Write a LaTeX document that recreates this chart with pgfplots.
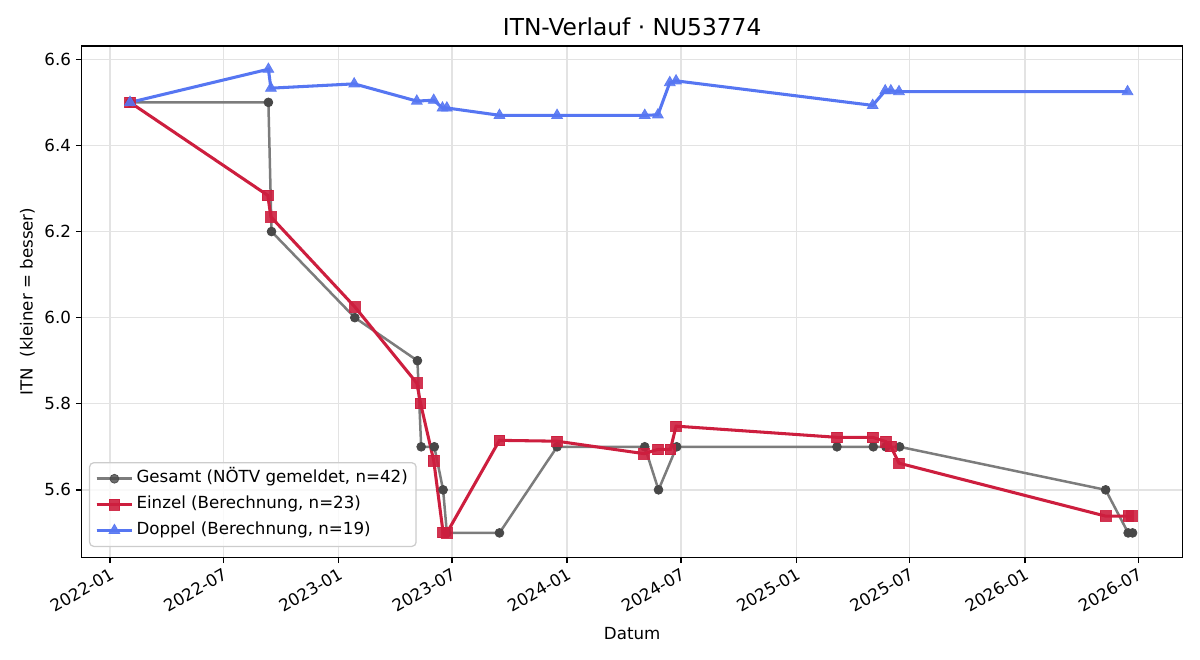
\documentclass[border=0pt]{standalone}
\usepackage{pgfplots}
\pgfplotsset{compat=1.18}
\usepackage{fontspec}
\setmainfont{DejaVu Sans}
\definecolor{cgrey}{RGB}{124,124,124}
\definecolor{cgreymk}{RGB}{72,72,72}
\definecolor{cred}{RGB}{205,30,62}
\definecolor{cblue}{RGB}{86,118,242}
\begin{document}
\begin{tikzpicture}
\begin{axis}[
  scale only axis,
  width=792.7pt, height=368.1pt,
  xmin=-45.2, xmax=1713,
  ymin=5.4435, ymax=6.631,
  xtick={0,181,365,546,730,912,1096,1277,1461,1642},
  xticklabels={2022-01,2022-07,2023-01,2023-07,2024-01,2024-07,2025-01,2025-07,2026-01,2026-07},
  ytick={5.6,5.8,6.0,6.2,6.4,6.6},
  /pgf/number format/fixed,
  /pgf/number format/fixed zerofill,
  /pgf/number format/precision=1,
  /pgf/number format/assume math mode=true,
  x tick label style={rotate=30, anchor=north east, font=\fontsize{12}{14}\selectfont, inner sep=2pt},
  y tick label style={font=\fontsize{12}{14}\selectfont},
  tick pos=left, tick align=outside,
  major tick length=4.2pt,
  every tick/.style={black, line width=0.95pt},
  axis line style={line width=0.95pt},
  grid=major,
  major grid style={black!11, line width=0.95pt},
  title={ITN-Verlauf · NU53774},
  title style={font=\fontsize{16.8}{19}\selectfont, yshift=-2pt},
  xlabel={Datum},
  xlabel style={yshift=-4pt},
  ylabel={ITN\ \ (kleiner = besser)},
  label style={font=\fontsize{12}{14}\selectfont},
  legend cell align=left,
  legend style={at={(0.0066,0.02)}, anchor=south west, draw=black!20, line width=0.9pt, rounded corners=3pt, fill=white, fill opacity=0.8, text opacity=1, font=\fontsize{12}{14}\selectfont, row sep=0.6pt, inner xsep=4pt, inner ysep=2.5pt,
    nodes={inner ysep=3pt, text height=9pt, text depth=3pt}},
  legend image code/.code={\draw[#1] (0cm,0cm) -- (0.45cm,0cm) -- (0.9cm,0cm); \draw[#1, mark repeat=2, mark phase=2] plot coordinates {(0cm,0cm) (0.45cm,0cm) (0.9cm,0cm)};},
]
\addplot[cgrey, line width=1.8pt, mark=*, mark size=3.2pt, mark options={fill=cgreymk, draw=cgreymk, line width=0.5pt}] coordinates {
(32,6.5) (253,6.5) (258,6.2) (391,6.0) (491,5.9) (497,5.7) (518,5.7) (532,5.6) (538,5.5) (622,5.5) (714,5.7) (854,5.7) (876,5.6) (905,5.7) (1161,5.7) (1219,5.7) (1239,5.7) (1261,5.7) (1590,5.6) (1626,5.5) (1633,5.5)
};
\addlegendentry{Gesamt (NÖTV gemeldet, n=42)}
\addplot[cred, line width=2.2pt, mark=square*, mark size=3.8pt, mark options={fill=cred, draw=cred, line width=0.5pt, opacity=0.9}] coordinates {
(32,6.5) (252,6.284) (257,6.234) (391,6.025) (490,5.848) (496,5.801) (517,5.668) (532,5.501) (538,5.5) (622,5.715) (714,5.713) (853,5.684) (875,5.694) (895,5.694) (904,5.748) (1161,5.722) (1218,5.722) (1239,5.712) (1247,5.701) (1260,5.662) (1590,5.539) (1626,5.539) (1632,5.539)
};
\addlegendentry{Einzel (Berechnung, n=23)}
\addplot[cblue, line width=2.2pt, mark=triangle*, mark size=4.5pt, mark options={fill=cblue, draw=cblue, line width=0.5pt, opacity=0.9}] coordinates {
(32,6.5) (253,6.577) (257,6.533) (390,6.543) (490,6.503) (517,6.505) (531,6.487) (538,6.487) (622,6.47) (714,6.47) (854,6.47) (875,6.471) (894,6.546) (904,6.55) (1218,6.493) (1238,6.527) (1247,6.527) (1260,6.525) (1625,6.525)
};
\addlegendentry{Doppel (Berechnung, n=19)}
\end{axis}
\pgfresetboundingbox
\path[use as bounding box] ([xshift=-58.8pt,yshift=-73.9pt]current axis.south west) rectangle ([xshift=12.5pt,yshift=33.1pt]current axis.north east);
\end{tikzpicture}
\end{document}
